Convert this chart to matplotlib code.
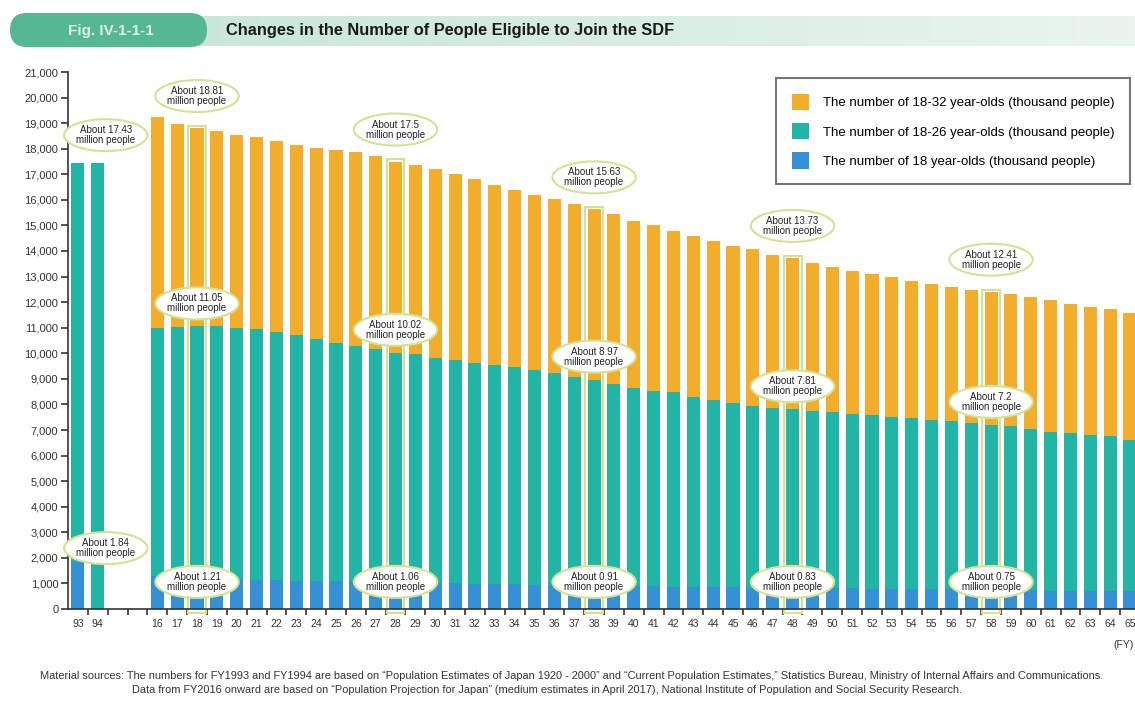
import numpy as np
import matplotlib
matplotlib.use("Agg")
import matplotlib.pyplot as plt
from matplotlib import font_manager
from matplotlib.patches import FancyBboxPatch, Ellipse, Rectangle, Patch

names = {f.name for f in font_manager.fontManager.ttflist}
NARROW = "Liberation Sans Narrow" if "Liberation Sans Narrow" in names else "Liberation Sans"
plt.rcParams["font.family"] = [NARROW, "DejaVu Sans"]

# fiscal years: 1993, 1994, then 2016-2065 (two empty slots in between)
year_labels = ["93", "94"] + [str(y) for y in range(16, 66)]
positions = [0, 1] + list(range(4, 54))

# thousand people
age_18_32 = [np.nan, np.nan,
             19240, 18980, 18810, 18690, 18550, 18440, 18290, 18130, 18040, 17940,
             17870, 17710, 17500, 17380, 17200, 17020, 16830, 16600, 16400, 16200,
             16020, 15820, 15630, 15440, 15180, 15010, 14790, 14600, 14380, 14180,
             14060, 13860, 13730, 13540, 13380, 13220, 13100, 12970, 12830, 12700,
             12610, 12490, 12410, 12320, 12190, 12100, 11930, 11800, 11720, 11590]
age_18_26 = [17430, 17430,
             11000, 11040, 11050, 11050, 11000, 10940, 10850, 10720, 10550, 10420,
             10290, 10160, 10020, 9960, 9830, 9720, 9620, 9530, 9450, 9360,
             9210, 9060, 8970, 8780, 8640, 8540, 8480, 8280, 8190, 8060,
             7930, 7860, 7810, 7760, 7710, 7630, 7580, 7500, 7470, 7410,
             7340, 7270, 7200, 7150, 7020, 6930, 6880, 6820, 6750, 6620]
age_18 = [1840, np.nan,
          1290, 1250, 1210, 1180, 1160, 1130, 1120, 1100, 1090, 1080,
          1080, 1070, 1060, 1040, 1030, 1010, 990, 970, 960, 950,
          940, 920, 910, 900, 890, 880, 870, 860, 850, 850,
          840, 840, 830, 820, 820, 810, 800, 790, 780, 780,
          770, 760, 750, 740, 730, 720, 720, 710, 700, 690]

highlight_years = ["18", "28", "38", "48", "58"]
top_notes = ["About 18.81\nmillion people", "About 17.5\nmillion people",
             "About 15.63\nmillion people", "About 13.73\nmillion people",
             "About 12.41\nmillion people"]
mid_notes = ["About 11.05\nmillion people", "About 10.02\nmillion people",
             "About 8.97\nmillion people", "About 7.81\nmillion people",
             "About 7.2\nmillion people"]
low_notes = ["About 1.21\nmillion people", "About 1.06\nmillion people",
             "About 0.91\nmillion people", "About 0.83\nmillion people",
             "About 0.75\nmillion people"]

ORANGE = "#f2ad2c"
TEAL = "#22b4a4"
BLUE = "#3590d6"
HL = "#d3e295"

W, H = 1135, 704
fig = plt.figure(figsize=(W / 100, H / 100), dpi=100)

# header band
hx = fig.add_axes([0, 1 - 55 / H, 1, 55 / H])
hx.set_xlim(0, W)
hx.set_ylim(55, 0)
hx.axis("off")
grad = np.linspace(0, 1, 256).reshape(1, -1)
cmap = matplotlib.colors.LinearSegmentedColormap.from_list("hdr", ["#c9e7d8", "#eaf5ef"])
hx.imshow(grad, cmap=cmap, extent=(190, W, 46, 16), aspect="auto")
hx.add_patch(FancyBboxPatch((10, 13), 197, 34, boxstyle="round,pad=0,rounding_size=17",
                            fc="#56b795", ec="none"))
hx.text(111, 30.5, "Fig. IV-1-1-1", color="#dcf1e6", fontsize=11, fontweight="bold",
        ha="center", va="center")
hx.text(226, 30.5, "Changes in the Number of People Eligible to Join the SDF",
        color="#1a1a1a", fontsize=11.8, fontweight="bold", ha="left", va="center")

ax = fig.add_axes([68 / W, 95 / H, 1 - 68 / W, (609 - 72) / H])
bw = 0.66
ax.bar(positions, age_18_32, width=bw, color=ORANGE, zorder=2)
ax.bar(positions, age_18_26, width=bw, color=TEAL, zorder=3)
ax.bar(positions, age_18, width=bw, color=BLUE, zorder=4)

ax.set_xlim(-0.5, 53.25)
ax.set_ylim(0, 21000)
ax.set_yticks(range(0, 21001, 1000))
ax.set_yticklabels([f"{v:,}" for v in range(0, 21001, 1000)])
ax.set_xticks(positions)
ax.set_xticklabels(year_labels)
ax.set_xticks(np.arange(0.5, 53.5, 1), minor=True)
ax.tick_params(axis="x", which="major", length=0, pad=7, labelsize=7.5, colors="#333333")
ax.tick_params(axis="x", which="minor", length=4, width=1.2, color="#333333", direction="out")
ax.tick_params(axis="y", length=5, width=1.2, color="#333333", labelsize=8, pad=2,
               labelcolor="#333333")
for s in ["top", "right"]:
    ax.spines[s].set_visible(False)
for s in ["left", "bottom"]:
    ax.spines[s].set_color("#333333")
    ax.spines[s].set_linewidth(1.2)
ax.spines["bottom"].set_zorder(6)

# highlighted bars and notes
for yl, tn, mn, ln in zip(highlight_years, top_notes, mid_notes, low_notes):
    i = year_labels.index(yl)
    x = positions[i]
    ax.add_patch(Rectangle((x - 0.45, -150), 0.9, age_18_32[i] + 230, fill=False,
                           ec=HL, lw=1.5, zorder=5, clip_on=False))
    for txt, y in [(tn, age_18_32[i] + 1250), (mn, age_18_26[i] + 900), (ln, 1060)]:
        ax.add_patch(Ellipse((x, y), 4.2, 1250, fc="white", ec=HL, lw=1.5, zorder=7))
        ax.text(x, y, txt, ha="center", va="center", fontsize=7, color="#222222",
                linespacing=1.0, zorder=8)

# 1993/1994 notes
for txt, y in [("About 17.43\nmillion people", age_18_26[0] + 1100),
               ("About 1.84\nmillion people", age_18[0] + 540)]:
    ax.add_patch(Ellipse((1.4, y), 4.2, 1250, fc="white", ec=HL, lw=1.5, zorder=7,
                         clip_on=False))
    ax.text(1.4, y, txt, ha="center", va="center", fontsize=7, color="#222222",
            linespacing=1.0, zorder=8)

handles = [Patch(fc=ORANGE, ec="none"), Patch(fc=TEAL, ec="none"), Patch(fc=BLUE, ec="none")]
labels = ["The number of 18-32 year-olds (thousand people)",
          "The number of 18-26 year-olds (thousand people)",
          "The number of 18 year-olds (thousand people)"]
leg = fig.legend(handles, labels, loc="upper right", bbox_to_anchor=(1130 / W, 1 - 78 / H),
                 fontsize=9.5, frameon=True, fancybox=False, edgecolor="#555555",
                 handlelength=1.3, handleheight=1.5, labelspacing=1.0, borderpad=1.2,
                 handletextpad=1.0, borderaxespad=0)
leg.get_frame().set_linewidth(1.5)

fig.text(1124 / W, 1 - 645 / H, "(FY)", fontsize=7.5, color="#333333", ha="center", va="center")
fig.text(40 / W, 1 - 676 / H,
         "Material sources: The numbers for FY1993 and FY1994 are based on \u201cPopulation Estimates of Japan 1920 - 2000\u201d "
         "and \u201cCurrent Population Estimates,\u201d Statistics Bureau, Ministry of Internal Affairs and Communications.",
         fontsize=7.9, color="#333333", ha="left", va="center")
fig.text(132 / W, 1 - 690 / H,
         "Data from FY2016 onward are based on \u201cPopulation Projection for Japan\u201d (medium estimates in April 2017), "
         "National Institute of Population and Social Security Research.",
         fontsize=7.9, color="#333333", ha="left", va="center")

fig.savefig("out.png", dpi=100)
